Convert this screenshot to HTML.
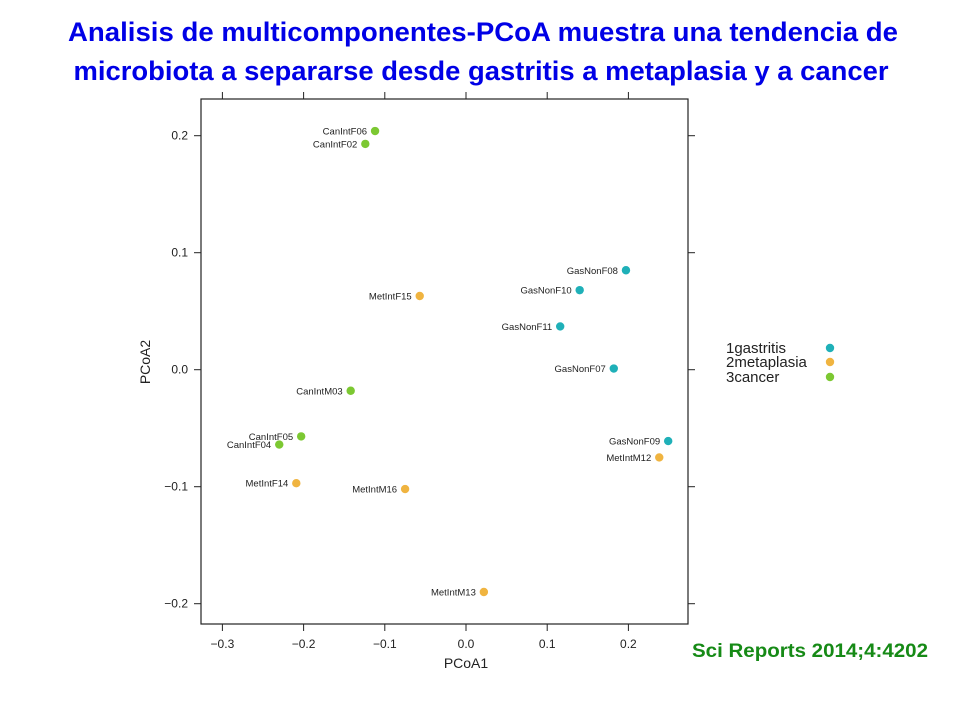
<!DOCTYPE html>
<html><head><meta charset="utf-8"><style>
body{margin:0;background:#fff;}
svg{display:block;font-family:"Liberation Sans",sans-serif;}
</style></head><body>
<svg id="chart" width="960" height="720" viewBox="0 0 960 720">
<text x="483" y="41" text-anchor="middle" font-size="27" font-weight="bold" fill="#0000e6" textLength="830" lengthAdjust="spacingAndGlyphs">Analisis de multicomponentes-PCoA muestra una tendencia de</text>
<text x="481" y="80" text-anchor="middle" font-size="27" font-weight="bold" fill="#0000e6" textLength="815" lengthAdjust="spacingAndGlyphs">microbiota a separarse desde gastritis a metaplasia y a cancer</text>
<rect x="201" y="99" width="487" height="525" fill="none" stroke="#222" stroke-width="1.2"/>
<g id="axes"></g>
<g id="points"></g>
<text x="466" y="668" text-anchor="middle" font-size="14" fill="#222">PCoA1</text>
<text transform="translate(150,362) rotate(-90)" text-anchor="middle" font-size="14" fill="#222">PCoA2</text>
<g>
<text x="726" y="353" font-size="15" fill="#222">1gastritis</text>
<text x="726" y="367" font-size="15" fill="#222">2metaplasia</text>
<text x="726" y="382" font-size="15" fill="#222">3cancer</text>
<circle cx="830" cy="348" r="4.2" fill="#1fb0b8"/>
<circle cx="830" cy="362" r="4.2" fill="#f0b440"/>
<circle cx="830" cy="377" r="4.2" fill="#7cc832"/>
</g>
<text x="692" y="657" font-size="19" font-weight="bold" fill="#168a16" textLength="236" lengthAdjust="spacingAndGlyphs">Sci Reports 2014;4:4202</text>
</svg>
<script>
const sampleNames=["CanIntF06","CanIntF02","GasNonF08","GasNonF10","MetIntF15","GasNonF11","GasNonF07","CanIntM03","CanIntF05","CanIntF04","GasNonF09","MetIntM12","MetIntF14","MetIntM16","MetIntM13"];
const pcoa1=[-0.112,-0.124,0.197,0.140,-0.057,0.116,0.182,-0.142,-0.203,-0.230,0.249,0.238,-0.209,-0.075,0.022];
const pcoa2=[0.204,0.193,0.085,0.068,0.063,0.037,0.001,-0.018,-0.057,-0.064,-0.061,-0.075,-0.097,-0.102,-0.190];
const groups=["cancer","cancer","gastritis","gastritis","metaplasia","gastritis","gastritis","cancer","cancer","cancer","gastritis","metaplasia","metaplasia","metaplasia","metaplasia"];
const xTicks=[-0.3,-0.2,-0.1,0.0,0.1,0.2];
const xTickLabels=["\u22120.3","\u22120.2","\u22120.1","0.0","0.1","0.2"];
const yTicks=[0.2,0.1,0.0,-0.1,-0.2];
const yTickLabels=["0.2","0.1","0.0","\u22120.1","\u22120.2"];
const colors={gastritis:"#1fb0b8",metaplasia:"#f0b440",cancer:"#7cc832"};
const NS="http://www.w3.org/2000/svg";
const X0=201,X1=688,Y0=99,Y1=624;
function sx(v){return 466+v*812;}
function sy(v){return 369.7-v*1170;}
const axes=document.getElementById('axes');
function mk(tag,attrs,parent){const e=document.createElementNS(NS,tag);for(const k in attrs)e.setAttribute(k,attrs[k]);parent.appendChild(e);return e;}
xTicks.forEach((t,i)=>{
  const x=sx(t);
  const b=mk('line',{x1:x,x2:x,y1:Y1,y2:Y1+7,stroke:'#222','stroke-width':1},axes);
  
  
  const tp=mk('line',{x1:x,x2:x,y1:Y0,y2:Y0-7,stroke:'#222','stroke-width':1},axes);
  
  
  const l=mk('text',{x:x,y:648,'text-anchor':'middle','font-size':12,fill:'#222'},axes);
  l.textContent=xTickLabels[i];
  
  
});
yTicks.forEach((t,i)=>{
  const y=sy(t);
  const a=mk('line',{x1:X0-7,x2:X0,y1:y,y2:y,stroke:'#222','stroke-width':1},axes);
  
  
  const r=mk('line',{x1:X1,x2:X1+7,y1:y,y2:y,stroke:'#222','stroke-width':1},axes);
  
  
  const l=mk('text',{x:188,y:y+4,'text-anchor':'end','font-size':12,fill:'#222'},axes);
  l.textContent=yTickLabels[i];
  
  
});
const pts=document.getElementById('points');
sampleNames.forEach((n,i)=>{
  const x=sx(pcoa1[i]),y=sy(pcoa2[i]);
  const c=mk('circle',{cx:x,cy:y,r:4.2,fill:colors[groups[i]]},pts);
  
  
  const t=mk('text',{x:x-8,y:y+3.5,'text-anchor':'end','font-size':9.5,fill:'#222'},pts);
  t.textContent=n;
  
  
});
</script>
</body></html>
